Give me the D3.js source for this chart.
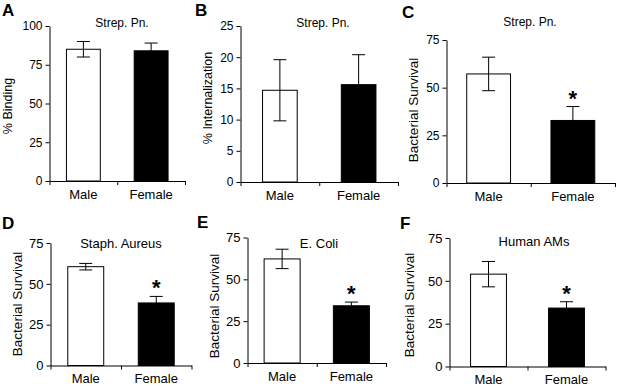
<!DOCTYPE html>
<html>
<head>
<meta charset="utf-8">
<script src="https://cdn.jsdelivr.net/npm/d3@7"></script>
<style>
  body { margin: 0; background: #fff; }
  svg { display: block; font-family: "Liberation Sans", Arial, Helvetica, sans-serif; }
  .tick line, .domain { stroke: #000; stroke-width: 1; }
  .tick text { fill: #000; }
</style>
</head>
<body>
<div class="chart"></div>
<script>
(function(){

//pseudo-global variables
var panelLetters = ["A", "B", "C", "D", "E", "F"];
var panelTitles = ["Strep. Pn.", "Strep. Pn.", "Strep. Pn.", "Staph. Aureus", "E. Coli", "Human AMs"];
var yLabels = ["% Binding", "% Internalization", "Bacterial Survival", "Bacterial Survival", "Bacterial Survival", "Bacterial Survival"];
var categories = ["Male", "Female"];

var yMax = [100, 25, 75, 75, 75, 75];
var yTicks = [[0, 25, 50, 75, 100],
              [0, 5, 10, 15, 20, 25],
              [0, 25, 50, 75],
              [0, 25, 50, 75],
              [0, 25, 50, 75],
              [0, 25, 50, 75]];

var maleMeans   = [85, 14.7, 57.2, 60.5, 62.2, 53.9];
var maleErr     = [5, 4.9, 8.8, 2, 5.8, 7.4];
var femaleMeans = [84, 15.6, 32.8, 38.3, 34.2, 34.1];
var femaleErr   = [5, 4.8, 7.3, 4, 2.2, 3.7];
var significant = [false, false, true, true, true, true];

//where each panel sits on the page
var panelLayout = [
    {x0: 49.5,  x1: 185,   yTop: 26,    yZero: 181,   bar: 0.5,  titleX: 122, titleY: 26.5, letterX: 2,   letterY: 16,  labX: 8,   labY: 106, labSize: 12.5, tickSize: 12, titleSize: 12},
    {x0: 240.5, x1: 398,   yTop: 26,    yZero: 182,   bar: 0.44, titleX: 323, titleY: 26.5, letterX: 195, letterY: 16,  labX: 208, labY: 98,  labSize: 12.5, tickSize: 12, titleSize: 12},
    {x0: 446.5, x1: 615,   yTop: 40,    yZero: 183,   bar: 0.52, titleX: 530, titleY: 26,   letterX: 402, letterY: 18,  labX: 413, labY: 110, labSize: 13.5, tickSize: 12, titleSize: 12},
    {x0: 50.5,  x1: 191.5, yTop: 243,   yZero: 365.5, bar: 0.51, titleX: 121, titleY: 248,  letterX: 2,   letterY: 229, labX: 17,  labY: 304, labSize: 13.5, tickSize: 13, titleSize: 13},
    {x0: 247.5, x1: 386,   yTop: 237.5, yZero: 363,   bar: 0.52, titleX: 319, titleY: 247.5,letterX: 197, letterY: 228, labX: 214, labY: 306, labSize: 13.5, tickSize: 13, titleSize: 13},
    {x0: 449.5, x1: 605.5, yTop: 238,   yZero: 366.5, bar: 0.46, titleX: 534, titleY: 246,  letterX: 400, letterY: 229, labX: 409, labY: 305, labSize: 13.5, tickSize: 13, titleSize: 13}
];

window.onload = setChart();

function setChart(){

    var width = 617,
        height = 386;

    var svg = d3.select(".chart")
        .append("svg")
        .attr("width", width)
        .attr("height", height);

    svg.append("rect")
        .attr("width", width)
        .attr("height", height)
        .attr("fill", "#fff");

    for (var i = 0; i < panelLetters.length; i++){
        drawPanel(svg, i);
    }
}

function drawPanel(svg, i){
    var L = panelLayout[i];
    var g = svg.append("g").attr("class", "panel " + panelLetters[i]);

    var y = d3.scaleLinear()
        .domain([0, yMax[i]])
        .range([L.yZero, L.yTop]);

    // bars centred at the quarter points of the axis
    var pad = 1 - L.bar;
    var x = d3.scaleBand()
        .domain(categories)
        .range([L.x0, L.x1])
        .paddingInner(pad)
        .paddingOuter(pad / 2);

    var rows = [
        {cat: categories[0], mean: maleMeans[i], err: maleErr[i], fill: "#fff"},
        {cat: categories[1], mean: femaleMeans[i], err: femaleErr[i], fill: "#000"}
    ];

    //bars
    g.selectAll(".bar")
        .data(rows)
        .enter()
        .append("rect")
        .attr("class", "bar")
        .attr("x", function(d){ return x(d.cat); })
        .attr("width", x.bandwidth())
        .attr("y", function(d){ return y(d.mean); })
        .attr("height", function(d){ return y(0) - y(d.mean); })
        .attr("fill", function(d){ return d.fill; })
        .attr("stroke", "#000")
        .attr("stroke-width", 1);

    //error bars (female only shows the upper half)
    var cap = 6.5;
    rows.forEach(function(d, k){
        var cx = x(d.cat) + x.bandwidth() / 2;
        var lo = k === 0 ? d.mean - d.err : d.mean;
        var hi = d.mean + d.err;
        g.append("line")
            .attr("x1", cx).attr("x2", cx)
            .attr("y1", y(lo)).attr("y2", y(hi))
            .attr("stroke", "#000");
        g.append("line")
            .attr("x1", cx - cap).attr("x2", cx + cap)
            .attr("y1", y(hi)).attr("y2", y(hi))
            .attr("stroke", "#000");
        if (k === 0){
            g.append("line")
                .attr("x1", cx - cap).attr("x2", cx + cap)
                .attr("y1", y(lo)).attr("y2", y(lo))
                .attr("stroke", "#000");
        }
        if (k === 1 && significant[i]){
            g.append("text")
                .attr("x", cx)
                .attr("y", y(hi) - 13.5 + 12.5)
                .attr("text-anchor", "middle")
                .attr("font-size", 22)
                .attr("font-weight", "bold")
                .text("*");
        }
    });

    //y axis
    g.append("g")
        .attr("transform", "translate(" + L.x0 + ",0)")
        .call(d3.axisLeft(y)
            .tickValues(yTicks[i])
            .tickSize(4)
            .tickSizeOuter(0))
        .selectAll("text")
        .attr("font-size", L.tickSize)
        .attr("font-family", null);

    //x axis with ticks at both ends and the middle
    var xt = d3.scaleLinear().domain([0, 1]).range([L.x0, L.x1]);
    g.append("g")
        .attr("transform", "translate(0," + L.yZero + ")")
        .call(d3.axisBottom(xt)
            .tickValues([0, 0.5, 1])
            .tickFormat("")
            .tickSize(4)
            .tickSizeOuter(0));

    //category labels
    g.selectAll(".cat")
        .data(categories)
        .enter()
        .append("text")
        .attr("class", "cat")
        .attr("x", function(d){ return x(d) + x.bandwidth() / 2; })
        .attr("y", L.yZero + 17.5)
        .attr("text-anchor", "middle")
        .attr("font-size", 13)
        .text(function(d){ return d; });

    //title
    g.append("text")
        .attr("x", L.titleX)
        .attr("y", L.titleY)
        .attr("text-anchor", "middle")
        .attr("font-size", L.titleSize)
        .text(panelTitles[i]);

    //y label
    g.append("text")
        .attr("transform", "translate(" + L.labX + "," + L.labY + ") rotate(-90)")
        .attr("dy", "0.35em")
        .attr("text-anchor", "middle")
        .attr("font-size", L.labSize)
        .text(yLabels[i]);

    //panel letter
    g.append("text")
        .attr("x", L.letterX)
        .attr("y", L.letterY)
        .attr("font-size", 17)
        .attr("font-weight", "bold")
        .text(panelLetters[i]);
}

})();
</script>
</body>
</html>
